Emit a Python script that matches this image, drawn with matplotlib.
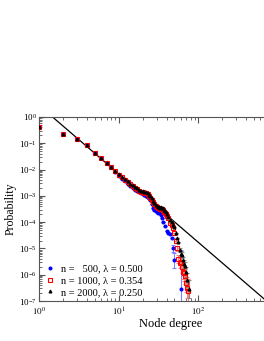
import matplotlib
matplotlib.use("Agg")
import matplotlib.pyplot as plt
from matplotlib.ticker import FuncFormatter
import numpy as np

plt.rcParams['font.family'] = ['Liberation Serif', 'DejaVu Serif']
plt.rcParams['mathtext.fontset'] = 'stix'

# node degrees and probabilities
k_head = [1, 2, 3, 4, 5, 6, 7, 8]
p_head = [0.41, 0.23, 0.145, 0.083, 0.044, 0.028, 0.018, 0.013]

k_2000 = list(range(9, 41)) + [42, 44, 46, 48, 50, 52, 54, 56, 58, 60, 62,
                               64, 66, 68, 70, 73, 76]
logp_2000 = [-2.04, -2.17, -2.27, -2.37, -2.45, -2.53, -2.60, -2.67, -2.72,
             -2.77, -2.80, -2.82, -2.84, -2.86, -2.90, -2.96, -3.02, -3.10,
             -3.18, -3.26, -3.33, -3.38, -3.42, -3.44, -3.45, -3.44, -3.45,
             -3.48, -3.53, -3.58, -3.63, -3.70, -3.80, -3.90, -3.98, -4.10,
             -4.20, -4.40, -4.60, -4.75, -5.05, -5.20, -5.25, -5.45, -5.60,
             -5.65, -5.90, -6.20, -6.55]
err_2000 = [0] * 40 + [0.08, 0.1, 0.12, 0.12, 0.15, 0.15, 0.2, 0.25, 0.35]

k_1000 = list(range(9, 41)) + [42, 44, 46, 48, 50, 52, 54, 56, 58, 60, 62,
                               64, 66, 68, 70, 72, 75]
logp_1000 = [-2.06, -2.19, -2.29, -2.39, -2.47, -2.55, -2.62, -2.69, -2.75,
             -2.80, -2.84, -2.86, -2.88, -2.90, -2.94, -3.00, -3.07, -3.15,
             -3.23, -3.31, -3.38, -3.43, -3.46, -3.48, -3.49, -3.49, -3.51,
             -3.55, -3.60, -3.65, -3.70, -3.75, -3.85, -4.02, -4.12, -4.23,
             -4.40, -4.70, -5.00, -5.40, -5.55, -5.50, -5.70, -5.90, -5.95,
             -6.05, -6.30, -6.50, -6.62]
err_1000 = [0] * 38 + [0.1, 0.15, 0.2, 0.2, 0.25, 0.25, 0.3, 0.3, 0.35, 0.4,
                       0.45]

k_500 = list(range(9, 37)) + [38, 40, 42, 44, 46, 48, 50, 60]
logp_500 = [-2.10, -2.24, -2.35, -2.45, -2.54, -2.62, -2.69, -2.76, -2.82,
            -2.87, -2.91, -2.93, -2.96, -2.99, -3.04, -3.10, -3.15, -3.30,
            -3.45, -3.52, -3.58, -3.62, -3.64, -3.62, -3.66, -3.72, -3.85,
            -3.98, -4.15, -4.33, -4.40, -4.45, -4.62, -5.00, -5.45, -6.55]
err_500 = [0] * 33 + [0.12, 0.28, 1.5]

# power-law guide line
fit_k = [1, 2000]
fit_c, fit_gamma = 2.7, 2.6

series = [
    (k_500, logp_500, err_500, 'o', 'blue', 'blue', '#8080ff',
     'n =   500, λ = 0.500'),
    (k_1000, logp_1000, err_1000, 's', 'none', 'red', '#ff8080',
     'n = 1000, λ = 0.354'),
    (k_2000, logp_2000, err_2000, '^', 'black', 'black', '#888888',
     'n = 2000, λ = 0.250'),
]

fig = plt.figure(figsize=(2.64, 3.41), dpi=100)
ax = fig.add_axes([0.149, 0.1173, 0.994, 0.5396])

kf = np.array(fit_k, dtype=float)
ax.plot(kf, fit_c * kf ** (-fit_gamma), c='black', lw=0.9, zorder=1)

for ks, logp, err, m, fc, ec, errc, lab in series:
    k = np.array(k_head + ks, dtype=float)
    p = np.array(p_head + [10 ** v for v in logp])
    e = np.array([0] * len(k_head) + err, dtype=float)
    lo = p - p * 10 ** (-e)
    hi = p * 10 ** e - p
    ax.errorbar(k, p, yerr=[lo, hi], fmt='none', ecolor=errc, elinewidth=0.8,
                capsize=1.5, capthick=0.8, zorder=2)
    ms = 2.6 if m == 's' else 2.1
    ax.plot(k, p, ls='none', marker=m, ms=ms, mfc=fc, mec=ec, mew=0.8,
            label=lab, zorder=3)

ax.set_xscale('log')
ax.set_yscale('log')
ax.set_xlim(1, 2000)
ax.set_ylim(1e-7, 1)
ax.xaxis.set_major_formatter(FuncFormatter(
    lambda v, pos: r'$10^{%d}$' % round(np.log10(v)) if v < 500 else ''))
ax.set_xlabel('Node degree', fontsize=9, labelpad=0)
ax.set_ylabel('Probability', fontsize=8.5)
ax.yaxis.set_label_coords(-0.087, 0.5)
ax.tick_params(which='both', direction='in', top=True, right=True,
               labelsize=6.5, color='#555555')
ax.tick_params(axis='y', pad=2)
ax.tick_params(which='major', length=4)
ax.tick_params(which='minor', length=2)
for s in ax.spines.values():
    s.set_color('#555555')

ax.legend(loc='lower left', bbox_to_anchor=(-0.015, -0.03), frameon=False,
          fontsize=7.5, labelspacing=0.25, handlelength=1.0,
          handletextpad=0.6)

fig.savefig('out.png', dpi=100)
